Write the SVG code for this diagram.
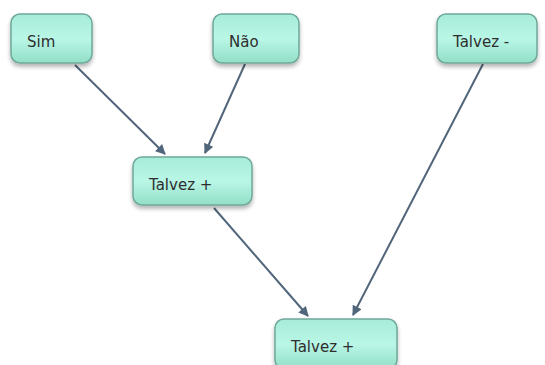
<svg xmlns="http://www.w3.org/2000/svg" width="545" height="365" viewBox="0 0 545 365">
<defs>
<linearGradient id="g" x1="0" y1="0" x2="0" y2="1">
<stop offset="0" stop-color="#a6ecd8"/>
<stop offset="0.5" stop-color="#b9f6e6"/>
<stop offset="1" stop-color="#92dfc7"/>
</linearGradient>
<filter id="sh" x="-20%" y="-20%" width="140%" height="160%">
<feGaussianBlur in="SourceAlpha" stdDeviation="2"/>
<feOffset dx="0" dy="3"/>
<feComponentTransfer><feFuncA type="linear" slope="0.3"/></feComponentTransfer>
<feMerge><feMergeNode/><feMergeNode in="SourceGraphic"/></feMerge>
</filter>
<marker id="ah" viewBox="0 0 10 10" refX="9" refY="5" markerWidth="5.5" markerHeight="5" orient="auto" markerUnits="strokeWidth">
<path d="M0,0 L10,5 L0,10 z" fill="#51667a"/>
</marker>
</defs>
<style>
.box{fill:url(#g);stroke:#6fa89a;stroke-width:1.5;filter:url(#sh)}
.t{font-family:"DejaVu Sans",Verdana,sans-serif;font-size:15px;fill:#2e2e2e}
.c{stroke:#51667a;stroke-width:2;fill:none;marker-end:url(#ah)}
</style>
<rect width="545" height="365" fill="#ffffff"/>
<g id="connectors">
<line class="c" x1="75" y1="65" x2="165" y2="154"/>
<line class="c" x1="245" y1="64" x2="205" y2="153"/>
<line class="c" x1="214" y1="208" x2="308" y2="316"/>
<line class="c" x1="483" y1="64" x2="353" y2="315"/>
</g>
<g id="n-sim"><rect class="box" x="11" y="14" width="81" height="49" rx="9"/><text class="t" x="27" y="47">Sim</text></g>
<g id="n-nao"><rect class="box" x="213" y="14" width="86" height="49" rx="9"/><text class="t" x="229" y="47">Não</text></g>
<g id="n-talvez-menos"><rect class="box" x="437" y="14" width="100" height="49" rx="9"/><text class="t" x="453" y="47">Talvez -</text></g>
<g id="n-talvez-mais-1"><rect class="box" x="133" y="157" width="119" height="48" rx="9"/><text class="t" x="149" y="190">Talvez +</text></g>
<g id="n-talvez-mais-2"><rect class="box" x="275" y="319" width="122" height="50" rx="9"/><text class="t" x="291" y="352">Talvez +</text></g>
</svg>
